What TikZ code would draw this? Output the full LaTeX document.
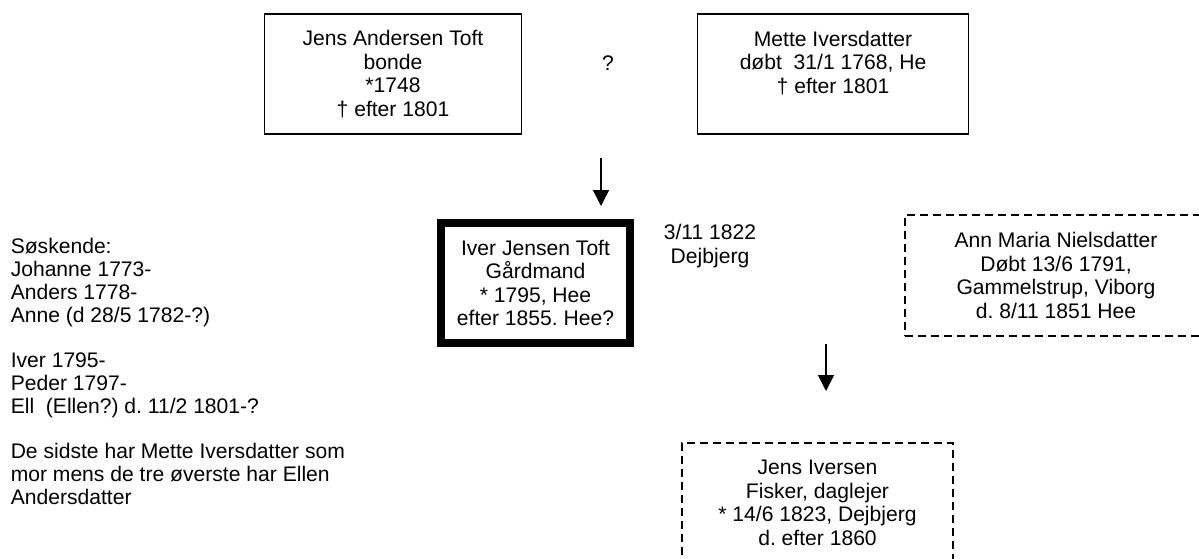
\documentclass[tikz,border=0pt]{standalone}
\usepackage{fontspec}
\setmainfont{Liberation Sans}
\usetikzlibrary{arrows.meta}
\frenchspacing

\begin{document}
\begin{tikzpicture}[x=1pt, y=-1pt, line width=1.5pt,
    every node/.style={font=\fontsize{21.1}{23.6}\selectfont, align=center, inner sep=0pt},
    person/.style={draw, minimum height=120pt},
    main/.style={draw, line width=8pt, minimum width=189pt, minimum height=120pt},
    guess/.style={draw, line width=2pt, dash pattern=on 8pt off 5pt, minimum height=121pt},
    descent/.style={-{Triangle[length=16pt,width=16pt]}}]
  \useasboundingbox (0,0) rectangle (1199,558);
  \clip (0,0) rectangle (1199,558);
  % parents
  \node[person, minimum width=257pt] (father) at (393,74)
    {Jens Andersen Toft\\bonde\\*1748\\† efter 1801};
  \node[person, minimum width=271pt] (mother) at (833,74)
    {Mette Iversdatter\\døbt~~31/1 1768, He\\† efter 1801\\\phantom{0}};
  \node (unsure) at (608,63) {?};
  \coordinate (parentsdown) at (601,158);
  \coordinate (parentsend) at (601,206);
  \draw[descent] (parentsdown) -- (parentsend);
  % the main person and his marriage
  \node[main] (iver) at (535.5,283)
    {Iver Jensen Toft\\Gårdmand\\* 1795, Hee\\efter 1855. Hee?};
  \node (wedding) at (710,246) {3/11 1822\\Dejbjerg};
  \node[guess, minimum width=302pt] (wife) at (1056,275.5)
    {Ann Maria Nielsdatter\\Døbt 13/6 1791,\\Gammelstrup, Viborg\\d. 8/11 1851 Hee};
  % child
  \coordinate (childdown) at (826,344);
  \coordinate (childend) at (826,391);
  \draw[descent] (childdown) -- (childend);
  \node[guess, minimum width=271pt] (son) at (817.5,503)
    {Jens Iversen\\Fisker, daglejer\\* 14/6 1823, Dejbjerg\\d. efter 1860};
  % siblings note
  \node[anchor=north west, align=left, font=\fontsize{21.1}{22.8}\selectfont] (siblings) at (10,237.6)
    {Søskende:\\Johanne 1773-\\Anders 1778-\\Anne (d 28/5 1782-?)\\[\baselineskip]
     Iver 1795-\\Peder 1797-\\Ell~~(Ellen?) d. 11/2 1801-?\\[\baselineskip]
     De sidste har Mette Iversdatter som\\mor mens de tre øverste har Ellen\\Andersdatter};
\end{tikzpicture}
\end{document}
